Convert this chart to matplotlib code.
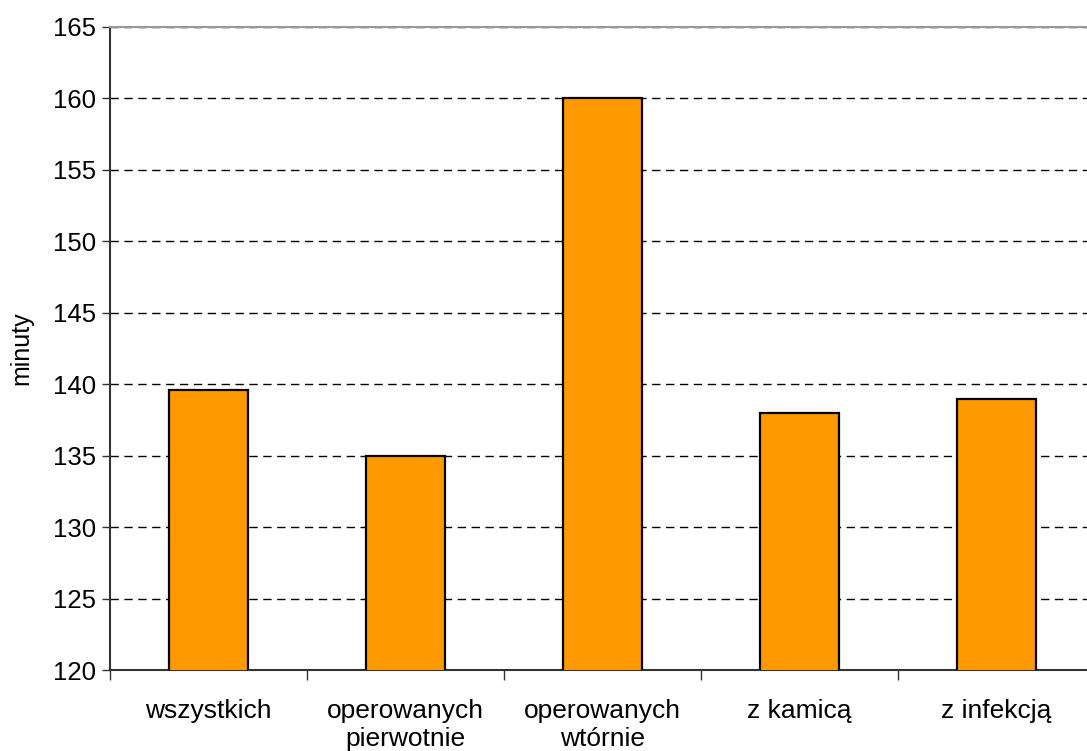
import matplotlib
matplotlib.use("Agg")
import matplotlib.pyplot as plt
import numpy as np

categories = ["wszystkich", "operowanych\npierwotnie", "operowanych\nwtórnie",
              "z kamicą", "z infekcją"]
values = [139.6, 135.0, 160.0, 138.0, 139.0]
y_ticks = [120, 125, 130, 135, 140, 145, 150, 155, 160, 165]

plt.rcParams['font.family'] = ['Liberation Sans', 'DejaVu Sans']

W, H = 1087, 751
fig = plt.figure(figsize=(W / 100, H / 100), dpi=100)
ax = fig.add_axes([110 / W, (H - 670) / H, (1095 - 110) / W, (670 - 27) / H])

x = np.arange(len(categories))
ax.bar(x, values, width=0.406, bottom=0, color="#FF9900",
       edgecolor="black", linewidth=1.6, zorder=3)

ax.set_xlim(-0.5, len(categories) - 0.5)
ax.set_ylim(120, 165)
ax.set_yticks(y_ticks)
ax.set_yticklabels([str(t) for t in y_ticks], fontsize=18.5)

# category labels centred, tick marks on category boundaries
ax.set_xticks(x)
ax.set_xticklabels(categories, fontsize=19, linespacing=1.2)
ax.tick_params(axis='x', which='major', length=0, pad=21)
ax.set_xticks(np.arange(-0.5, len(categories), 1.0), minor=True)
ax.tick_params(axis='x', which='minor', length=7, width=1, color="#333333")
ax.tick_params(axis='y', length=6, width=1, color="#333333", pad=4)

ax.yaxis.grid(True, linestyle=(0, (6, 4)), color="black", linewidth=1, zorder=1)
ax.set_axisbelow(True)

for s in ("left", "bottom"):
    ax.spines[s].set_color("#333333")
    ax.spines[s].set_linewidth(1.5)
ax.spines["top"].set_color("#999999")
ax.spines["top"].set_linewidth(1.5)
ax.spines["right"].set_visible(False)

ax.set_ylabel("minuty", fontsize=18, labelpad=14)

fig.savefig("out.png", dpi=100)
